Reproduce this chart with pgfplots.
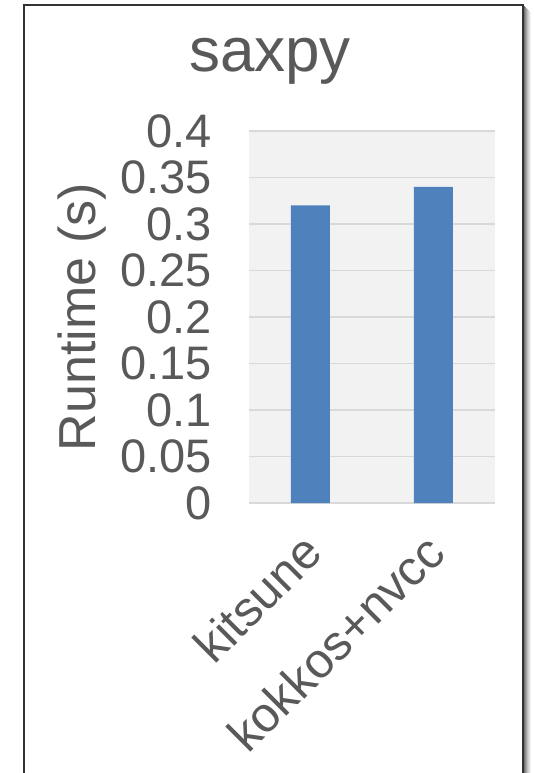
\documentclass[border=0pt]{standalone}
\usepackage{fontspec}
\setmainfont{Liberation Sans}
\usepackage{pgfplots}
\pgfplotsset{compat=1.18}
\definecolor{txt}{HTML}{595959}
\definecolor{gridc}{HTML}{D9D9D9}
\definecolor{bgc}{HTML}{F2F2F2}
\definecolor{barc}{HTML}{4F81BD}
\definecolor{framec}{HTML}{333333}
\begin{document}
\begin{tikzpicture}[x=0.5pt,y=0.5pt]
\useasboundingbox (0,0) rectangle (534,773);
% shadow
\foreach \i/\o in {1/0.55,2/0.45,3/0.35,4/0.26,5/0.18,6/0.11,7/0.05} {
  \draw[black,opacity=\o,line width=0.5pt] (523+\i,-10) -- (523+\i,767.5-\i);
}
\draw[framec,line width=1pt] (24,-10) -- (24,767.5) -- (523,767.5) -- (523,-10);
\node[anchor=base,text=txt,font=\fontsize{31}{36}\selectfont] at (270,701) {saxpy};
\begin{axis}[
  at={(124.5pt,135pt)}, anchor=south west,
  width=123pt, height=186pt, scale only axis,
  xmin=-0.5, xmax=1.5, ymin=0, ymax=0.4,
  axis background/.style={fill=bgc},
  axis line style={draw=none},
  ymajorgrids, grid style={gridc,line width=0.75pt},
  major tick length=0pt,
  ytick={0,0.05,0.1,0.15,0.2,0.25,0.3,0.35,0.4},
  yticklabels={0,0.05,0.1,0.15,0.2,0.25,0.3,0.35,0.4},
  xtick={0,1}, xticklabels={kitsune,kokkos+nvcc},
  tick label style={font=\fontsize{23.5}{28}\selectfont, text=txt},
  yticklabel style={inner sep=0pt, anchor=east, xshift=-18.5pt},
  xticklabel style={font=\fontsize{24.5}{29}\selectfont, inner sep=0pt, yshift=-20pt, xshift=1pt, rotate=45, anchor=east},
  /pgf/number format/assume math mode=true,
  ylabel={Runtime (s)},
  every axis y label/.style={at={(axis description cs:-0.679,0.5)}, rotate=90, anchor=center, font=\fontsize{26}{31}\selectfont, text=txt},
  ybar, bar width=19.5pt,
  clip=false,
]
\addplot[fill=barc, draw=none] coordinates {(0,0.32) (1,0.34)};
\end{axis}
\end{tikzpicture}
\end{document}
